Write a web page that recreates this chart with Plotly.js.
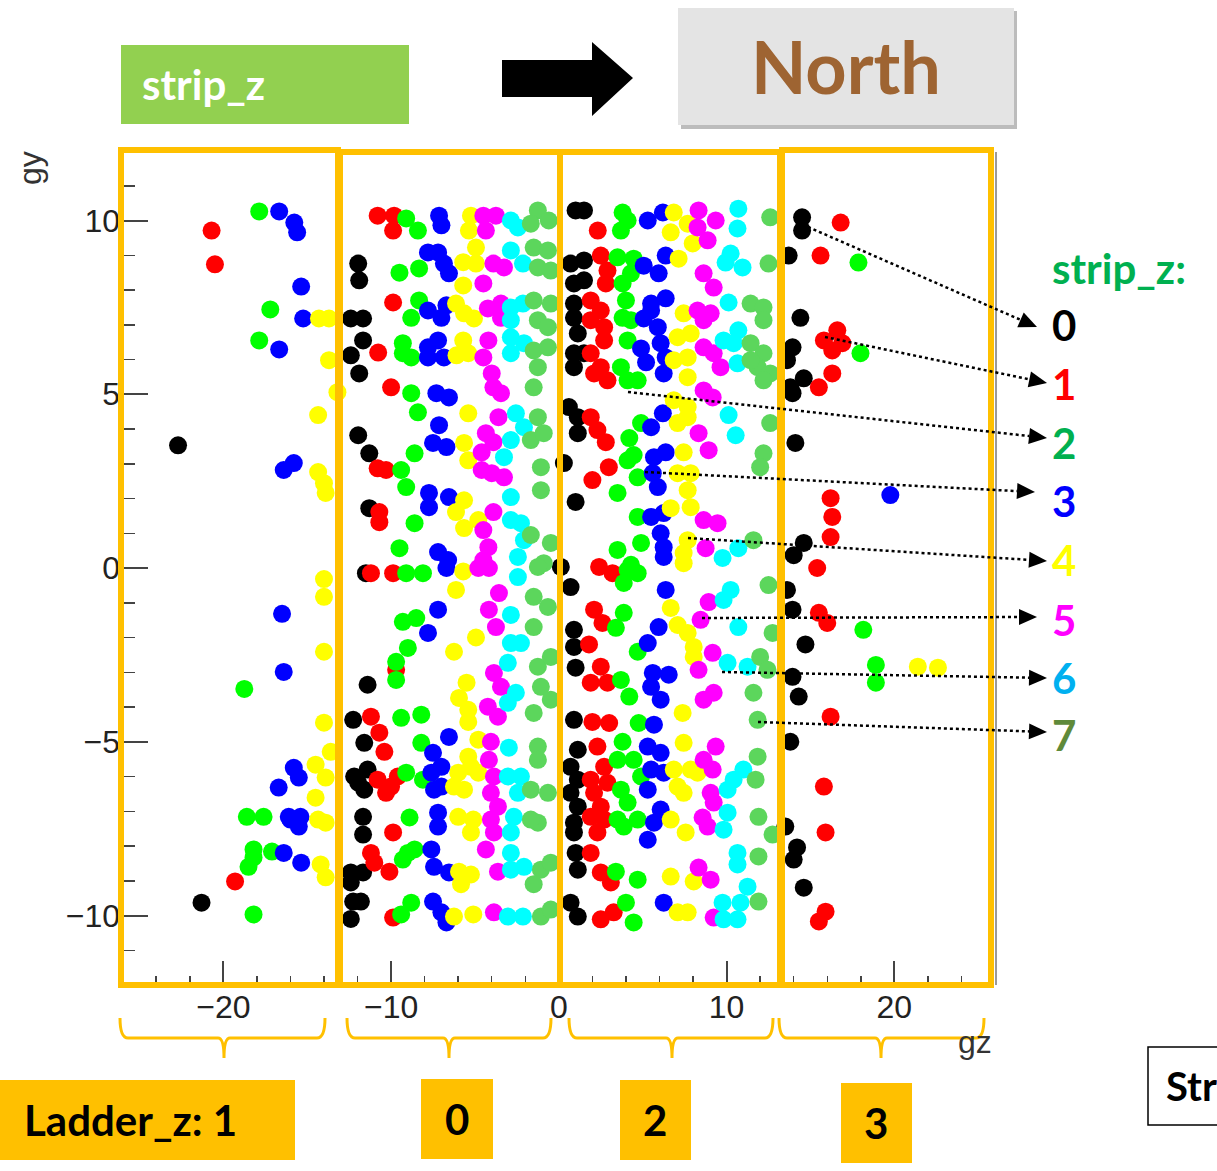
<!DOCTYPE html>
<html><head><meta charset="utf-8">
<script src="https://cdn.plot.ly/plotly-3.0.1.min.js"></script>
<style>html,body{margin:0;padding:0;background:#fff;}#chart{width:1217px;height:1171px;}</style>
</head><body><div id="chart"></div>
<script>
// ---------- data (gz, gy) per strip_z ----------
const strip0_x = [-22.7,-21.3,
 -11.96,-11.9,-12.4,-11.67,-11.67,-12.4,-11.9,-11.96,-11.3,-11.3,
 -11.5,-11.4,-12.26,-11.6,-12.2,-11.4,-11.6,-11.96,-11.67,-11.67,-12.4,-11.67,-12.4,-12.26,-11.8,-12.4,
 1.0,1.5,0.7,1.5,0.9,1.5,0.9,0.9,1.13,0.9,0.9,1.5,0.6,1.13,1.13,0.3,1.0,
 0.12,0.7,0.9,0.9,1.0,0.9,1.13,0.7,1.13,0.7,1.13,0.9,0.9,1.0,1.13,0.7,1.13,
 14.5,14.5,13.7,14.4,13.93,13.6,14.6,13.8,13.93,14.1,14.6,14.0,13.6,13.93,14.7,13.93,14.3,13.8,13.5,14.2,14.0,14.6];
const strip0_y = [3.53,-9.63,
 8.76,8.28,7.18,7.18,6.55,6.12,5.6,3.82,3.3,1.72,
 -0.15,-3.36,-4.37,-5.03,-6.0,-5.8,-6.38,-6.18,-7.16,-7.67,-8.76,-8.76,-9.05,-9.6,-9.6,-10.1,
 10.29,10.29,8.76,8.85,8.19,8.28,7.61,7.2,6.75,6.18,5.78,6.18,4.63,4.34,3.88,3.02,1.9,
 0.03,-0.55,-1.78,-2.27,-2.87,-4.37,-5.23,-5.72,-6.09,-6.47,-6.87,-7.33,-7.61,-8.2,-8.68,-9.63,-10.03,
 10.09,9.71,8.99,7.2,6.35,5.98,5.46,5.2,5.03,3.6,0.72,0.37,-0.63,-1.2,-2.2,-3.13,-3.7,-5.0,-7.44,-8.04,-8.39,-9.2];

const strip1_x = [-20.7,-20.5,-19.3,
 -10.8,-9.82,-9.88,-9.88,-10.77,-10.0,-10.8,-10.3,-10.7,-10.7,
 -11.2,-9.88,-9.7,-11.2,-10.7,-10.4,-10.8,-10.0,-9.6,-10.3,-9.88,-11.2,-11.0,-10.1,-9.88,
 2.32,2.5,2.9,2.8,1.9,2.5,1.9,2.7,2.7,1.9,2.5,2.9,2.1,1.9,2.3,2.8,2.98,2.0,
 2.4,3.2,2.1,2.6,1.8,2.5,1.9,2.9,2.0,3.0,2.3,2.7,1.9,2.9,2.1,2.5,1.9,2.7,2.3,1.9,2.5,3.1,2.5,3.27,
 16.8,15.6,16.6,15.8,16.3,16.9,16.3,15.5,16.2,16.3,16.2,15.4,15.5,16.0,16.2,15.8,15.9,15.9,15.5];
const strip1_y = [9.71,8.74,-9.02,
 10.14,10.14,9.71,7.64,6.2,5.2,2.87,2.82,1.61,1.32,
 -0.15,-0.15,-2.93,-4.28,-4.74,-5.29,-6.09,-6.29,-6.0,-6.47,-7.61,-8.2,-8.48,-8.74,-10.06,
 9.71,8.99,8.56,8.19,7.7,7.41,7.13,6.93,6.55,6.18,5.78,5.4,5.6,4.34,3.97,3.62,2.9,2.53,
 0.03,-0.15,-1.2,-1.58,-2.2,-2.84,-3.3,-3.3,-4.43,-4.46,-5.14,-5.72,-6.09,-6.18,-6.47,-6.87,-7.16,-7.24,-7.61,-8.2,-8.76,-9.05,-10.11,-9.91,
 9.94,8.99,6.84,6.55,6.26,6.47,5.6,5.2,2.01,1.47,0.89,0.0,-1.29,-1.58,-4.28,-6.29,-7.61,-9.89,-10.17];

const strip2_x = [-17.86,-17.2,-17.86,-18.75,-18.6,-17.6,-18.2,-18.5,-17.1,-18.2,-18.2,
 -9.1,-8.4,-9.5,-8.33,-8.33,-8.8,-9.3,-8.8,-9.3,-8.8,-8.4,-8.6,-9.4,-9.1,-8.6,-9.5,
 -9.1,-8.1,-9.3,-8.5,-9.0,-9.7,-9.7,-9.4,-8.2,-8.2,-9.1,-8.1,-8.9,-9.3,-8.6,-9.0,-8.8,-9.4,
 3.8,3.7,4.1,3.5,4.46,4.3,3.8,4.0,3.8,4.3,4.1,3.7,4.1,4.7,4.9,4.2,4.46,4.1,4.7,3.5,4.7,4.9,3.5,4.3,
 4.1,4.7,3.87,3.87,3.4,4.7,3.7,4.2,4.76,3.8,3.5,4.46,4.9,3.7,4.1,3.5,4.7,3.87,3.4,4.7,4.0,4.46,
 17.86,17.98,18.15,18.9,18.9];
const strip2_y = [10.26,7.44,6.55,-3.48,-7.16,-7.16,-8.1,-8.6,-8.16,-8.33,-9.97,
 10.06,9.71,8.5,8.62,7.7,7.2,6.47,6.06,6.18,5.03,4.48,3.3,2.82,2.33,1.29,0.57,
 -0.15,-0.15,-1.55,-1.44,-2.3,-2.7,-3.22,-4.31,-4.22,-5.03,-5.89,-6.09,-7.18,-8.39,-8.1,-8.2,-9.63,-9.97,
 10.23,9.71,10.0,8.94,8.9,8.48,8.19,7.7,7.2,7.13,6.55,5.78,5.4,5.4,4.17,3.74,3.25,3.1,2.61,2.16,1.47,0.72,0.52,0.09,
 -0.06,-0.15,-0.43,-1.29,-1.72,-2.41,-3.22,-3.7,-4.46,-5.0,-5.52,-5.52,-6.0,-6.38,-6.75,-7.24,-7.24,-7.44,-8.74,-8.97,-9.63,-10.2,
 8.79,6.18,-1.78,-2.79,-3.3];

const strip3_x = [-16.67,-15.77,-15.6,-15.36,-15.24,-16.67,-15.8,-16.4,-16.5,-16.4,-15.8,-15.5,-16.7,-16.0,-15.5,-16.1,-15.4,-16.4,-15.36,
 -7.14,-7.0,-7.8,-7.2,-6.85,-6.55,-7.8,-7.0,-6.7,-7.8,-7.2,-6.85,-7.8,-7.3,-6.55,-7.14,-7.5,-6.7,-7.74,-7.74,-6.55,-7.2,-6.6,
 -6.7,-7.2,-7.8,-6.55,-7.5,-7.0,-7.6,-7.0,-7.44,-7.2,-7.2,-7.6,-7.44,-6.55,-7.5,-7.0,-6.7,
 5.3,6.2,5.06,5.95,6.37,5.5,6.37,5.06,5.9,5.5,4.9,5.2,6.07,6.37,6.25,5.5,6.2,5.67,6.37,5.6,5.9,5.5,6.25,6.07,6.25,6.25,
 6.37,5.95,5.3,5.6,6.55,5.5,6.07,5.67,5.3,6.07,5.5,6.25,5.3,6.07,5.67,5.3,6.25,
 19.76];
const strip3_y = [10.26,9.94,9.66,8.1,7.18,6.29,3.02,2.82,-1.32,-2.99,-5.75,-6.03,-6.32,-7.24,-7.44,-7.16,-7.16,-8.2,-8.48,
 10.14,9.86,9.08,9.08,8.76,8.48,7.41,7.2,7.56,6.35,6.55,6.06,6.06,5.03,4.91,4.11,3.6,3.48,2.16,1.75,2.04,0.46,0.23,
 0.0,-1.2,-1.87,-4.86,-5.32,-5.72,-5.89,-6.29,-6.38,-7.04,-7.44,-8.1,-8.6,-8.76,-9.6,-9.91,-10.2,
 10.0,10.23,8.7,8.48,8.99,7.61,7.76,7.18,6.93,7.41,6.32,5.92,6.47,6.06,5.6,4.05,4.45,3.19,3.33,2.73,2.33,1.47,1.58,1.0,0.6,0.32,
 -0.63,-1.7,-2.16,-3.02,-3.07,-3.42,-3.79,-4.51,-5.14,-5.32,-5.8,-5.89,-6.38,-6.95,-7.33,-7.82,-9.63,
 2.1];

const strip4_x = [-14.3,-13.7,-13.7,-13.2,-14.35,-14.35,-14.0,-13.9,-14.0,-14.0,-14.0,-14.0,-13.6,-14.5,-13.9,-14.5,-14.35,-13.9,-14.2,-13.9,
 -5.24,-5.36,-4.94,-5.7,-4.94,-5.7,-6.13,-5.65,-5.06,-5.7,-6.1,-5.4,-5.4,-5.65,-5.4,-5.65,-6.13,-4.8,-5.65,
 -5.7,-6.13,-4.94,-6.25,-5.5,-5.95,-5.4,-5.4,-4.8,-5.4,-6.0,-5.24,-6.25,-5.65,-4.8,-6.0,-5.1,-5.24,-5.95,-5.24,-5.83,-6.25,-5.1,
 6.85,7.68,6.67,7.98,7.14,7.44,7.08,7.86,6.85,7.68,7.68,6.85,7.68,7.08,7.68,7.44,7.08,7.86,7.68,6.67,7.86,7.68,7.44,
 7.44,6.67,7.08,7.68,8.04,8.04,7.38,7.44,6.85,7.86,7.08,7.44,8.27,6.67,7.56,6.67,8.04,7.08,7.68,
 21.4,22.6];
const strip4_y = [7.18,7.18,5.98,5.06,4.4,2.76,2.44,2.16,-0.32,-0.83,-2.41,-4.45,-5.29,-5.66,-6.03,-6.61,-7.24,-7.33,-8.53,-8.9,
 10.14,9.71,9.22,8.8,8.76,8.13,7.61,7.33,7.18,6.55,6.12,6.18,4.45,3.6,3.1,1.95,1.61,1.38,1.15,
 -0.1,-0.63,-2.0,-2.41,-3.3,-3.74,-4.08,-4.43,-4.94,-5.43,-5.89,-5.72,-6.29,-6.38,-5.89,-7.16,-7.24,-7.61,-8.74,-8.82,-9.1,-10.03,-9.97,
 10.23,9.91,9.66,9.34,8.9,7.33,6.64,6.75,5.98,6.06,5.49,4.83,4.63,4.17,4.34,3.33,2.73,2.73,2.24,1.72,1.75,0.8,0.43,
 0.14,-1.15,-1.64,-1.87,-2.27,-2.56,-4.17,-5.03,-5.8,-5.8,-6.29,-6.47,-5.89,-7.24,-7.61,-8.88,-9.02,-9.91,-9.91,
 -2.84,-2.87];

const strip5_x = [-4.5,-3.75,-4.35,-3.9,-3.27,-4.5,-4.23,-3.45,-3.45,-4.2,-4.5,-4.0,-3.9,-3.45,-3.6,-4.35,-4.6,-3.9,-4.6,-4.0,-3.27,-3.9,-4.5,-4.2,-4.5,
 -4.8,-4.17,-3.57,-4.17,-3.75,-3.87,-3.45,-4.23,-3.63,-4.05,-4.17,-3.87,-4.05,-3.63,-4.05,-3.87,-4.35,-3.63,-3.87,
 8.33,9.35,8.27,8.87,8.63,9.23,8.27,9.05,8.63,8.63,9.23,9.64,8.63,9.17,8.33,8.93,8.63,9.46,8.75,
 8.93,8.45,9.17,8.33,9.23,8.63,9.35,8.63,9.17,9.05,9.23,8.57,8.87,8.33,9.05,9.23];
const strip5_y = [10.14,10.14,9.71,8.76,8.65,8.19,7.47,7.61,7.2,6.55,6.06,5.6,5.2,5.03,4.34,3.88,3.33,3.62,2.82,2.73,2.61,1.61,1.09,0.6,0.23,
 0.0,0.0,-0.72,-1.2,-1.7,-3.02,-3.42,-3.99,-4.28,-5.0,-5.52,-6.0,-6.47,-6.87,-7.24,-7.61,-8.1,-8.74,-9.91,
 10.29,10.0,9.8,9.43,8.48,8.07,7.41,7.33,7.13,6.35,6.18,5.78,5.11,4.91,3.88,3.39,1.38,1.29,0.57,
 -0.98,-1.49,-2.44,-2.93,-3.59,-3.79,-5.14,-5.52,-5.8,-6.47,-6.75,-7.18,-7.44,-8.62,-8.97,-10.06];

const strip6_x = [-2.86,-2.44,-2.86,-2.14,-2.86,-2.14,-2.86,-2.86,-2.08,-2.86,-2.56,-2.08,-2.86,-3.27,-2.86,-2.86,-2.26,-2.08,-2.44,
 -2.44,-2.86,-2.86,-2.26,-3.04,-2.56,-3.04,-2.98,-3.04,-2.26,-2.44,-2.68,-2.86,-2.86,-2.86,-2.08,-3.04,-2.14,
 10.7,10.65,10.24,9.94,10.95,10.12,9.82,10.7,10.42,10.65,10.12,10.54,10.7,9.76,
 10.24,9.82,10.7,10.06,11.25,11.0,10.42,10.06,10.06,9.82,10.65,10.65,11.25,9.76,10.83,9.82,10.65];
const strip6_y = [10.0,9.8,9.14,8.76,7.5,7.61,7.13,6.64,6.47,6.18,4.45,4.05,3.68,3.19,2.04,1.38,1.29,0.8,0.32,
 -0.26,-1.35,-2.16,-2.16,-2.73,-3.59,-3.88,-5.17,-6.0,-6.0,-6.47,-7.16,-7.61,-8.2,-8.68,-8.6,-10.03,-10.03,
 10.34,9.77,9.05,8.79,8.65,7.64,6.55,6.84,6.47,5.89,4.4,3.82,0.57,0.29,
 -0.63,-0.92,-1.7,-2.73,-2.84,-5.8,-6.09,-6.38,-7.04,-7.53,-8.2,-8.53,-9.17,-9.63,-9.63,-10.11,-10.11];

const strip7_x = [-1.25,-0.6,-1.67,-1.5,-0.65,-1.25,-0.48,-1.5,-0.48,-1.25,-0.65,-1.5,-0.65,-1.25,-1.5,-1.25,-1.67,-0.9,-1.07,-1.07,-1.67,-0.48,-0.9,
 -1.25,-1.5,-1.5,-0.65,-1.25,-0.48,-1.07,-1.5,-0.48,-1.25,-1.67,-0.65,-1.25,-1.25,-1.67,-1.07,-1.5,-0.48,-1.07,-0.48,
 12.6,12.5,11.43,12.2,12.2,11.43,12.2,11.85,12.6,12.2,11.43,12.6,12.2,12.0,11.6,
 12.5,12.74,12.0,12.44,11.6,11.85,11.85,11.73,11.9,12.74,11.9,11.9];
const strip7_y = [10.29,10.0,9.91,9.22,9.14,8.65,8.56,7.7,7.61,7.13,6.93,6.26,6.35,5.78,5.2,4.34,3.68,3.88,2.9,2.24,0.95,0.72,0.14,
 0.03,-0.83,-1.7,-1.12,-2.84,-2.56,-3.42,-4.17,-3.79,-5.14,-6.38,-6.47,-5.52,-7.33,-7.24,-8.68,-9.1,-8.48,-10.03,-9.83,
 10.09,8.76,7.61,7.5,7.13,6.47,6.18,5.78,5.6,5.4,5.98,4.17,3.3,2.9,0.8,
 -0.49,-1.87,-2.56,-2.93,-3.59,-4.37,-5.43,-6.09,-7.16,-7.67,-8.3,-9.6];

const stripNames = ['0','1','2','3','4','5','6','7'];
const ladderNames = ['Ladder_z: 1','0','2','3'];

// ---------- styles ----------
const markerColors = ['#000000','#ff0000','#00ff00','#0000ff','#ffff00','#ff00ff','#00ffff','#5cd65c'];
const labelColors  = ['#000000','#ff0000','#00b050','#0000ff','#ffff00','#ff00ff','#00b0f0','#5f8a3a'];
const ORANGE = '#FFC000';
const W=1217,H=1171,L=121,R=222,T=151,B=186;
const PW=W-L-R, PH=H-T-B;
const px = v => (v-L)/PW;
const py = v => (H-B-v)/PH;

const xs=[strip0_x,strip1_x,strip2_x,strip3_x,strip4_x,strip5_x,strip6_x,strip7_x];
const ys=[strip0_y,strip1_y,strip2_y,strip3_y,strip4_y,strip5_y,strip6_y,strip7_y];
const traces = xs.map((x,i)=>({type:'scatter',mode:'markers',x:x,y:ys[i],name:stripNames[i],
  marker:{size:18,color:markerColors[i],line:{width:0}},showlegend:false,hoverinfo:'x+y'}));

const shapes=[], annotations=[];
function rectPx(x0,y0,x1,y1,opt){shapes.push(Object.assign({type:'rect',xref:'paper',yref:'paper',x0:px(x0),x1:px(x1),y0:py(y1),y1:py(y0)},opt));}
function pathPx(pts,opt,closed){let s='M '+pts.map(p=>px(p[0])+','+py(p[1])).join(' L ');if(closed)s+=' Z';shapes.push(Object.assign({type:'path',xref:'paper',yref:'paper',path:s},opt));}
function textPx(x,y,text,font,xanchor){annotations.push({xref:'paper',yref:'paper',x:px(x),y:py(y),text:text,showarrow:false,font:font,xanchor:xanchor||'center',yanchor:'middle'});}

// top decorations
rectPx(121,45,409,124,{fillcolor:'#92D050',line:{width:0}});
textPx(140,84,'strip_z',{family:'Lato',size:42,color:'#ffffff',weight:700},'left');
pathPx([[502,60],[592,60],[592,42],[633,78],[592,116],[592,97],[502,97]],{fillcolor:'#000000',line:{width:0}},true);
rectPx(681,11,1017,129,{fillcolor:'#bcbcbc',line:{width:0}});
rectPx(678,8,1014,125,{fillcolor:'#e4e4e4',line:{width:0}});
textPx(846,66,'North',{family:'Lato',size:72,color:'#9E6432',weight:700});

// ladder boxes
const boxes=[[121,150,338,985],[340,152,560,985],[560,152,780,985],[782,150,991,985]];
boxes.forEach(b=>rectPx(b[0],b[1],b[2],b[3],{line:{color:ORANGE,width:6},fillcolor:'rgba(0,0,0,0)'}));
shapes.push({type:'line',xref:'paper',yref:'paper',x0:px(996),x1:px(996),y0:py(152),y1:py(985),line:{color:'#9a9a9a',width:2}});

// braces
const braces=[[120,325,224],[347,551,449],[569,773,672],[779,984,881]];
braces.forEach(b=>{
  const top=1018,mid=1038,bot=1058;
  const s=`M ${px(b[0])},${py(top)} Q ${px(b[0])},${py(mid)} ${px(b[0]+8)},${py(mid)} L ${px(b[2]-6)},${py(mid)} Q ${px(b[2])},${py(mid)} ${px(b[2])},${py(bot)} Q ${px(b[2])},${py(mid)} ${px(b[2]+6)},${py(mid)} L ${px(b[1]-8)},${py(mid)} Q ${px(b[1])},${py(mid)} ${px(b[1])},${py(top)}`;
  shapes.push({type:'path',xref:'paper',yref:'paper',path:s,line:{color:ORANGE,width:3}});
});

// ladder label boxes
const lbox=[[0,1080,295,1160,22,'left'],[421,1079,493,1159,457,'center'],[620,1080,691,1160,655,'center'],[841,1083,912,1163,876,'center']];
lbox.forEach((b,i)=>{rectPx(b[0],b[1],b[2],b[3],{fillcolor:ORANGE,line:{width:0}});
  textPx(b[4],(b[1]+b[3])/2,ladderNames[i],{family:'Lato',size:42,color:'#000000',weight:700},b[5]);});
rectPx(1148,1047,1240,1125,{fillcolor:'#ffffff',line:{color:'#000000',width:1.5}});
textPx(1164,1086,'Str',{family:'Lato',size:40,color:'#000000',weight:700},'left');

// axis titles
annotations.push({xref:'paper',yref:'paper',x:px(30),y:py(168),xanchor:'center',yanchor:'middle',text:'gy',showarrow:false,textangle:-90,font:{family:'Liberation Sans',size:32,color:'#333'}});
textPx(975,1042,'gz',{family:'Liberation Sans',size:32,color:'#333'});

// right-hand strip labels and dotted arrows
textPx(1050,268,'strip_z:',{family:'Lato',size:42,color:'#00b050',weight:700},'left');
const labelY=[325,384,443,501,560,620,678,735];
stripNames.forEach((s,i)=>textPx(1050,labelY[i],s,{family:'Lato',size:42,color:labelColors[i],weight:700},'left'));
const arrows=[[808,227,1037,327],[825,337,1047,383],[628,392,1047,438],[645,472,1035,492],[688,538,1047,561],[702,618,1037,617],[722,672,1047,678],[758,722,1047,732]];
arrows.forEach(a=>{
  const dx=a[2]-a[0],dy=a[3]-a[1],len=Math.hypot(dx,dy),ux=dx/len,uy=dy/len;
  const hl=18,hw=8;const bx=a[2]-ux*hl,by=a[3]-uy*hl;
  shapes.push({type:'line',xref:'paper',yref:'paper',x0:px(a[0]),y0:py(a[1]),x1:px(bx),y1:py(by),line:{color:'#000',width:2.5,dash:'dot'}});
  pathPx([[a[2],a[3]],[bx-uy*hw,by+ux*hw],[bx+uy*hw,by-ux*hw]],{fillcolor:'#000',line:{width:0}},true);
});

const tickfont={family:'Liberation Sans, Arial, sans-serif',size:32,color:'#222'};
const layout={width:W,height:H,margin:{l:L,r:R,t:T,b:B,pad:0},
  paper_bgcolor:'#ffffff',plot_bgcolor:'#ffffff',showlegend:false,
  xaxis:{range:[-26.1,26],tick0:0,dtick:10,ticks:'inside',ticklen:24,tickwidth:2,tickcolor:'#444',
    minor:{ticks:'inside',ticklen:9,tickwidth:1.5,tickcolor:'#444',dtick:2,tick0:0,showgrid:false},
    showgrid:false,zeroline:false,showline:false,tickfont:tickfont},
  yaxis:{range:[-12,12],tick0:0,dtick:5,ticks:'inside',ticklen:27,tickwidth:2,tickcolor:'#444',
    minor:{ticks:'inside',ticklen:14,tickwidth:1.5,tickcolor:'#444',dtick:1,tick0:0,showgrid:false},
    showgrid:false,zeroline:false,showline:false,tickfont:tickfont},
  shapes:shapes,annotations:annotations};
Plotly.newPlot('chart',traces,layout,{staticPlot:true,displayModeBar:false});
</script></body></html>
